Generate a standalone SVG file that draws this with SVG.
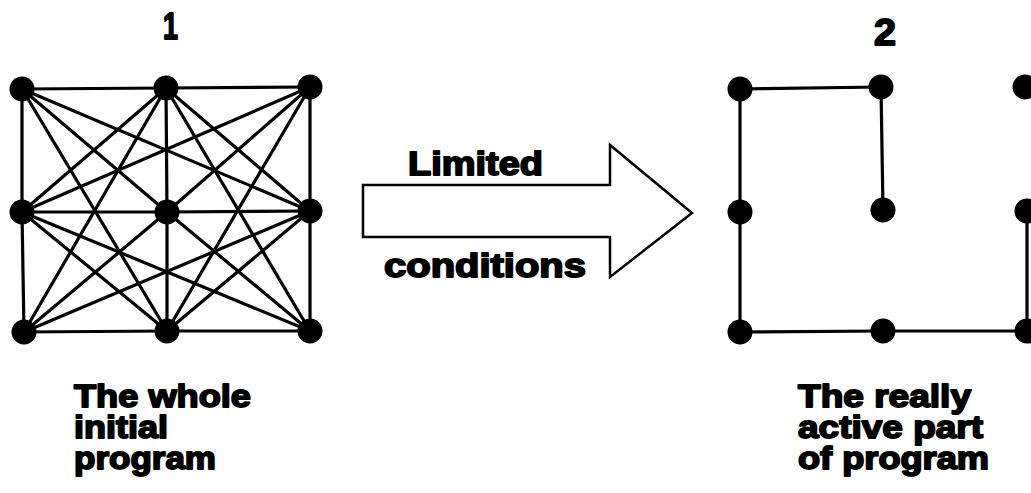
<svg xmlns="http://www.w3.org/2000/svg" width="1031" height="493" viewBox="0 0 1031 493">
<style>
.bg{fill:#fff}
.e{stroke:#000;stroke-width:3.2;fill:none;stroke-linecap:round}
.n{fill:#000}
.t{font-family:"Liberation Sans",Arial,sans-serif;font-weight:bold;fill:#000;stroke:#000;stroke-width:1.8;stroke-linejoin:round}
.arrow{fill:#fff;stroke:#000;stroke-width:2.5;stroke-linejoin:miter}
</style>
<rect class="bg" width="1031" height="493"/>
<g id="connectors">
  <g id="left-edges">
    <line class="e" x1="22" y1="89" x2="166" y2="88"/>
    <line class="e" x1="166" y1="88" x2="310" y2="87"/>
    <line class="e" x1="22" y1="212" x2="167" y2="212"/>
    <line class="e" x1="167" y1="212" x2="310" y2="211"/>
    <line class="e" x1="24" y1="332" x2="167" y2="331"/>
    <line class="e" x1="167" y1="331" x2="310" y2="331"/>
    <line class="e" x1="22" y1="89" x2="22" y2="212"/>
    <line class="e" x1="22" y1="212" x2="24" y2="332"/>
    <line class="e" x1="166" y1="88" x2="167" y2="212"/>
    <line class="e" x1="167" y1="212" x2="167" y2="331"/>
    <line class="e" x1="310" y1="87" x2="310" y2="211"/>
    <line class="e" x1="310" y1="211" x2="310" y2="331"/>
    <line class="e" x1="22" y1="89" x2="167" y2="212"/>
    <line class="e" x1="310" y1="87" x2="167" y2="212"/>
    <line class="e" x1="24" y1="332" x2="167" y2="212"/>
    <line class="e" x1="310" y1="331" x2="167" y2="212"/>
    <line class="e" x1="166" y1="88" x2="22" y2="212"/>
    <line class="e" x1="166" y1="88" x2="310" y2="211"/>
    <line class="e" x1="167" y1="331" x2="22" y2="212"/>
    <line class="e" x1="167" y1="331" x2="310" y2="211"/>
    <line class="e" x1="22" y1="89" x2="310" y2="211"/>
    <line class="e" x1="22" y1="89" x2="167" y2="331"/>
    <line class="e" x1="310" y1="87" x2="22" y2="212"/>
    <line class="e" x1="310" y1="87" x2="167" y2="331"/>
    <line class="e" x1="24" y1="332" x2="166" y2="88"/>
    <line class="e" x1="24" y1="332" x2="310" y2="211"/>
    <line class="e" x1="310" y1="331" x2="166" y2="88"/>
    <line class="e" x1="310" y1="331" x2="22" y2="212"/>
  </g>
  <g id="right-edges">
    <line class="e" x1="740" y1="89" x2="881" y2="87"/>
    <line class="e" x1="740" y1="89" x2="740" y2="212"/>
    <line class="e" x1="740" y1="212" x2="740" y2="332"/>
    <line class="e" x1="881" y1="87" x2="883" y2="210"/>
    <line class="e" x1="740" y1="332" x2="883" y2="331"/>
    <line class="e" x1="883" y1="331" x2="1027" y2="331"/>
    <line class="e" x1="1027" y1="211" x2="1027" y2="331"/>
  </g>
</g>
<g id="left-nodes">
  <circle id="l-tl" class="n" cx="22" cy="89" r="12.5"/>
  <circle id="l-tm" class="n" cx="166" cy="88" r="12.5"/>
  <circle id="l-tr" class="n" cx="310" cy="87" r="12.5"/>
  <circle id="l-ml" class="n" cx="22" cy="212" r="12.5"/>
  <circle id="l-mc" class="n" cx="167" cy="212" r="12.5"/>
  <circle id="l-mr" class="n" cx="310" cy="211" r="12.5"/>
  <circle id="l-bl" class="n" cx="24" cy="332" r="12.5"/>
  <circle id="l-bm" class="n" cx="167" cy="331" r="12.5"/>
  <circle id="l-br" class="n" cx="310" cy="331" r="12.5"/>
</g>
<g id="right-nodes">
  <circle id="r-tl" class="n" cx="740" cy="89" r="12.5"/>
  <circle id="r-tm" class="n" cx="881" cy="87" r="12.5"/>
  <circle id="r-tr" class="n" cx="1025" cy="87" r="12.5"/>
  <circle id="r-ml" class="n" cx="740" cy="212" r="12.5"/>
  <circle id="r-mc" class="n" cx="883" cy="210" r="12.5"/>
  <circle id="r-mr" class="n" cx="1027" cy="211" r="12.5"/>
  <circle id="r-bl" class="n" cx="740" cy="332" r="12.5"/>
  <circle id="r-bm" class="n" cx="883" cy="331" r="12.5"/>
  <circle id="r-br" class="n" cx="1027" cy="331" r="12.5"/>
</g>
<g id="arrow">
  <polygon class="arrow" points="363,185 610,185 610,145 692,213 610,277 610,237 363,237"/>
  <text class="t" x="408" y="175" font-size="33" textLength="135" lengthAdjust="spacingAndGlyphs">Limited</text>
  <text class="t" x="384" y="277" font-size="33" textLength="202" lengthAdjust="spacingAndGlyphs">conditions</text>
</g>
<g id="labels">
  <text class="t" x="163" y="39" font-size="37" textLength="15" lengthAdjust="spacingAndGlyphs">1</text>
  <text class="t" x="874" y="45" font-size="37" textLength="22" lengthAdjust="spacingAndGlyphs">2</text>
  <text class="t" x="74" y="407" font-size="32" textLength="177" lengthAdjust="spacingAndGlyphs">The whole</text>
  <text class="t" x="74" y="438" font-size="32" textLength="94" lengthAdjust="spacingAndGlyphs">initial</text>
  <text class="t" x="74" y="469" font-size="32" textLength="142" lengthAdjust="spacingAndGlyphs">program</text>
  <text class="t" x="798" y="407" font-size="32" textLength="173" lengthAdjust="spacingAndGlyphs">The really</text>
  <text class="t" x="798" y="438" font-size="32" textLength="185" lengthAdjust="spacingAndGlyphs">active part</text>
  <text class="t" x="798" y="469" font-size="32" textLength="191" lengthAdjust="spacingAndGlyphs">of program</text>
</g>
</svg>
